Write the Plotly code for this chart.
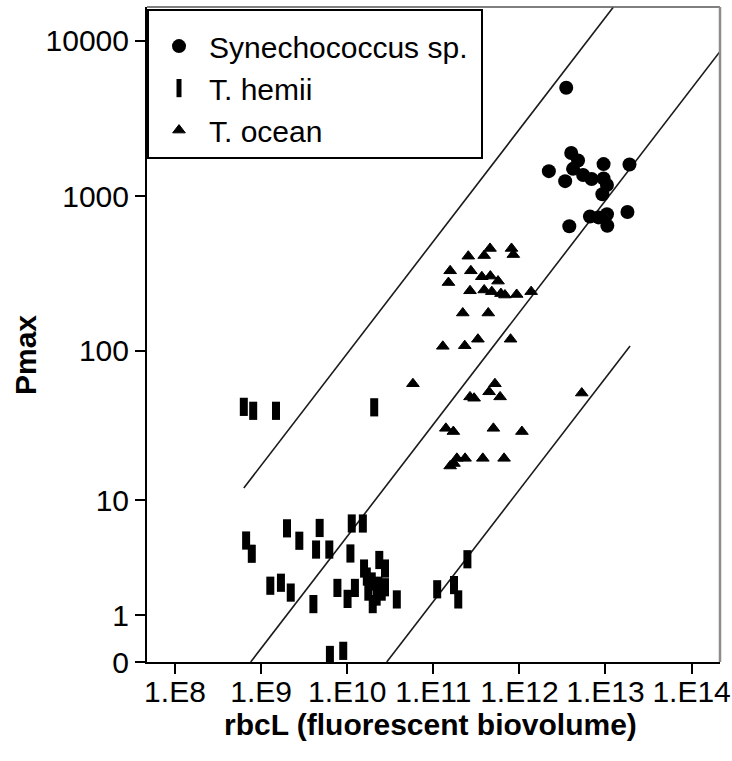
import numpy as np
import plotly.graph_objects as go

# ---------------- data ----------------
syn_x = [3.5e12, 4.0e12, 4.8e12, 4.2e12, 2.2e12, 3.4e12, 5.5e12, 6.9e12, 9.5e12, 9.5e12,
         1.04e13, 9.2e12, 1.9e13, 1.8e13, 6.6e12, 8.3e12, 1.04e13, 1.05e13, 3.8e12]
syn_y = [5000, 1900, 1700, 1500, 1450, 1250, 1370, 1290, 1610, 1300,
         1180, 1030, 1600, 790, 740, 730, 765, 645, 640]

hem_x = [6.3e8, 8.1e8, 1.49e9, 2.06e10, 6.7e8, 7.8e8, 2.0e9, 2.78e9, 4.79e9, 4.35e9,
         6.2e9, 1.13e10, 1.52e10, 1.09e10, 1.28e9, 1.7e9, 2.21e9, 4.05e9, 7.7e9, 1.01e10,
         1.23e10, 1.57e10, 1.69e10, 2.36e10, 2.75e10, 1.93e10, 2.3e10, 2.75e10, 1.76e10, 2.2e10,
         1.98e10, 2.52e10, 3.77e10, 6.3e9, 9.0e9, 1.11e11, 1.74e11, 1.95e11, 2.49e11]
hem_y = [43, 40.5, 40.5, 42.7, 5.06, 3.98, 6.26, 5.04, 6.3, 4.3,
         4.3, 6.8, 6.8, 4.0, 2.1, 2.24, 1.8, 1.36, 2.0, 1.55,
         2.0, 3.0, 2.55, 3.54, 3.0, 2.3, 2.1, 2.03, 1.84, 1.64,
         1.36, 1.84, 1.53, 0.11, 0.18, 1.94, 2.13, 1.53, 3.59]

oce_x = [2.55e11, 3.9e11, 4.56e11, 8.1e11, 8.5e11, 1.57e11, 2.73e11, 1.5e11, 3.66e11, 4.6e11,
         5.65e11, 2.67e11, 3.9e11, 4.78e11, 6.1e11, 6.8e11, 9.3e11, 1.37e12, 2.2e11, 4.35e11,
         1.29e11, 2.32e11, 3.3e11, 7.9e11,
         5.8e10, 2.67e11, 2.98e11, 5.2e11, 4.45e11, 5.97e11, 5.3e12, 1.4e11, 1.71e11, 4.99e11,
         1.07e12, 1.57e11, 1.88e11, 2.34e11, 3.76e11, 6.64e11, 1.74e11]
oce_y = [410, 414, 460, 460, 420, 330, 330, 277, 302, 305,
         283, 245, 248, 242, 235, 230, 232, 242, 176, 176,
         107, 108, 119, 119,
         61, 50, 49, 61, 54, 50, 53, 31, 29.5, 31,
         29.5, 17.3, 19.5, 19.5, 19.5, 19.5, 18]

# reference lines (start/end points)
line_x = [[6.3e8, 1.23e13], [7.57e8, 2.14e14], [2.88e10, 1.93e13]]
line_y = [[12.2, 16500], [0, 8560], [0, 107.5]]

x_tick_vals = [1e8, 1e9, 1e10, 1e11, 1e12, 1e13, 1e14]
x_tick_text = ["1.E8", "1.E9", "1.E10", "1.E11", "1.E12", "1.E13", "1.E14"]
y_tick_vals = [0, 1, 10, 100, 1000, 10000]
y_tick_text = ["0", "1", "10", "100", "1000", "10000"]


def ty(v):
    # log10(y + 1) scale used by the chart's y axis
    return np.log10(np.asarray(v, dtype=float) + 1.0)


FONT = "Liberation Sans, Arial, sans-serif"

fig = go.Figure()

for lx, ly in zip(line_x, line_y):
    fig.add_trace(go.Scatter(x=lx, y=ty(ly), mode="lines",
                             line=dict(color="#1a1a1a", width=1.6),
                             showlegend=False, hoverinfo="skip"))

fig.add_trace(go.Scatter(x=syn_x, y=ty(syn_y), mode="markers", name="Synechococcus sp.\u00a0",
                         marker=dict(symbol="circle", size=14, color="black")))
fig.add_trace(go.Scatter(x=hem_x, y=ty(hem_y), mode="markers", name="T. hemii",
                         marker=dict(symbol="line-ns", size=13, color="black",
                                     line=dict(color="black", width=8))))
fig.add_trace(go.Scatter(x=oce_x, y=ty(oce_y), mode="markers", name="T. ocean",
                         marker=dict(symbol="triangle-up", size=11, color="black",
                                     line=dict(color="black", width=1))))

W, H = 732, 761
L, R, T, B = 147, 12, 7, 99
pw, ph = W - L - R, H - T - B

fig.update_layout(
    width=W, height=H,
    margin=dict(l=L, r=R, t=T, b=B, autoexpand=False),
    paper_bgcolor="white", plot_bgcolor="white",
    font=dict(family=FONT, size=30, color="black"),
    showlegend=True,
    legend=dict(x=0, y=1 - 2 / ph, xanchor="left", yanchor="top",
                bgcolor="white", bordercolor="black", borderwidth=2,
                font=dict(family=FONT, size=30, color="black"),
                title=dict(text=" ", font=dict(size=7)),
                itemwidth=50, tracegroupgap=0),
    xaxis=dict(type="log", range=[7.675, 14.33], automargin=False,
               tickvals=x_tick_vals, ticktext=x_tick_text,
               ticks="outside", ticklen=10, tickwidth=1.5, tickcolor="black",
               ticklabelstandoff=-8,
               showline=True, linecolor="black", linewidth=2,
               showgrid=False, zeroline=False,
               tickfont=dict(family=FONT, size=30, color="black")),
    yaxis=dict(range=[0, 4.219], automargin=False,
               tickvals=list(ty(y_tick_vals)), ticktext=y_tick_text,
               ticks="outside", ticklen=10, tickwidth=1.5, tickcolor="black",
               showline=True, linecolor="black", linewidth=2,
               showgrid=False, zeroline=False,
               tickfont=dict(family=FONT, size=30, color="black")),
    shapes=[
        dict(type="line", xref="paper", yref="paper", x0=0, x1=1, y0=1, y1=1,
             line=dict(color="#555555", width=1.5)),
        dict(type="line", xref="paper", yref="paper", x0=1, x1=1, y0=0, y1=1,
             line=dict(color="#8c8c8c", width=2.5)),
    ],
    annotations=[
        dict(text="<b>rbcL (fluorescent biovolume)</b>", xref="paper", yref="paper",
             x=(430 - L) / pw, y=(H - B - 724) / ph, xanchor="center", yanchor="middle",
             showarrow=False, font=dict(family=FONT, size=30, color="black")),
        dict(text="<b>Pmax</b>", xref="paper", yref="paper",
             x=(25 - L) / pw, y=(H - B - 355) / ph, xanchor="center", yanchor="middle",
             textangle=-90, showarrow=False, font=dict(family=FONT, size=30, color="black")),
    ],
)

fig.write_html("out.html")
